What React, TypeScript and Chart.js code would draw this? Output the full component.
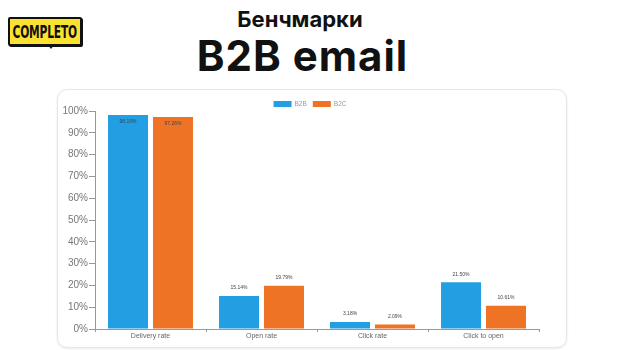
import React, { useEffect, useRef } from "react";
import { Chart, registerables } from "chart.js";

Chart.register(...registerables);

const categories = ["Delivery rate", "Open rate", "Click rate", "Click to open"];
const b2bValues = [98.19, 15.14, 3.18, 21.5];
const b2cValues = [97.26, 19.79, 2.09, 10.61];
const yTickLabels = ["0%", "10%", "20%", "30%", "40%", "50%", "60%", "70%", "80%", "90%", "100%"];
const seriesNames = ["B2B", "B2C"];

const BLUE = "#229fe3";
const ORANGE = "#ee7324";
const FONT = "'Liberation Sans', Arial, sans-serif";

const labelPlugin = {
  id: "barLabels",
  afterDatasetsDraw(chart: any) {
    const ctx = chart.ctx;
    ctx.save();
    ctx.font = "5px " + FONT;
    ctx.fillStyle = "#444";
    ctx.textAlign = "center";
    ctx.textBaseline = "middle";
    chart.data.datasets.forEach((ds: any, i: number) => {
      const meta = chart.getDatasetMeta(i);
      meta.data.forEach((el: any, j: number) => {
        const v = ds.data[j];
        const txt = v.toFixed(2) + "%";
        let y = el.y - 8;
        if (y < chart.chartArea.top + 5) y = el.y + 7;
        ctx.fillText(txt, el.x, y);
      });
    });
    ctx.restore();
  },
};

const legendPlugin = {
  id: "topLegend",
  afterDraw(chart: any) {
    const ctx = chart.ctx;
    ctx.save();
    ctx.font = "6.5px " + FONT;
    const boxW = 18, boxH = 6, gap = 3, itemGap = 6;
    const items = chart.data.datasets.map((ds: any) => ({
      label: ds.label,
      color: ds.backgroundColor,
      w: boxW + gap + ctx.measureText(ds.label).width,
    }));
    const total = items.reduce((s: number, it: any) => s + it.w, 0) + itemGap * (items.length - 1);
    let x = (chart.chartArea.left + chart.chartArea.right) / 2 - 7 - total / 2;
    const y = 11;
    ctx.textBaseline = "middle";
    ctx.textAlign = "left";
    items.forEach((it: any) => {
      ctx.fillStyle = it.color;
      ctx.fillRect(x, y, boxW, boxH);
      ctx.fillStyle = "#999";
      ctx.fillText(it.label, x + boxW + gap, y + boxH / 2);
      x += it.w + itemGap;
    });
    ctx.restore();
  },
};

export default function App() {
  const ref = useRef<HTMLCanvasElement | null>(null);
  useEffect(() => {
    if (!ref.current) return;
    const chart = new Chart(ref.current, {
      type: "bar",
      data: {
        labels: categories,
        datasets: [
          { label: seriesNames[0], data: b2bValues, backgroundColor: BLUE, borderWidth: 0 },
          { label: seriesNames[1], data: b2cValues, backgroundColor: ORANGE, borderWidth: 0 },
        ],
      },
      options: {
        animation: false,
        responsive: false,
        maintainAspectRatio: false,
        layout: { padding: { top: 21, right: 27, left: 0, bottom: 0 } },
        plugins: {
          legend: { display: false },
          tooltip: { enabled: false },
        },
        datasets: { bar: { categoryPercentage: 0.81, barPercentage: 0.89 } },
        scales: {
          x: {
            grid: { display: true, drawOnChartArea: false, tickLength: 3, color: "#999", offset: true },
            border: { color: "#999", width: 1 },
            ticks: { color: "#666", font: { size: 7, family: FONT }, padding: 0 },
            afterFit(scale: any) { scale.height = 18; },
          },
          y: {
            min: 0,
            max: 100,
            grid: { display: true, drawOnChartArea: false, tickLength: 6, color: "#999" },
            border: { color: "#999", width: 1 },
            ticks: {
              stepSize: 10,
              padding: 1,
              color: "#777",
              font: { size: 10, family: FONT },
              callback: (_v: any, i: number) => yTickLabels[i],
            },
            afterFit(scale: any) { scale.width = 37; },
          },
        },
      },
      plugins: [labelPlugin, legendPlugin],
    } as any);
    return () => chart.destroy();
  }, []);

  return (
    <div style={{ position: "absolute", left: 0, top: 0, width: 622, height: 350, background: "#fff", overflow: "hidden", fontFamily: "Inter, 'Noto Sans', sans-serif" }}>
      {/* logo */}
      <div style={{ position: "absolute", left: 8, top: 17, width: 70, height: 25, background: "#fbe232", border: "2px solid #111", borderRadius: 2, boxShadow: "1px 1px 0 #111", display: "flex", alignItems: "center", justifyContent: "center", overflow: "hidden" }}>
        <span style={{ fontFamily: "'DejaVu Sans Condensed', 'DejaVu Sans', sans-serif", fontWeight: 700, fontSize: 18, color: "#111", letterSpacing: -0.3, transform: "scaleX(0.66)", display: "inline-block", whiteSpace: "nowrap" }}>COMPLETO</span>
      </div>
      <div style={{ position: "absolute", left: 48, top: 45, width: 0, height: 0, borderLeft: "3px solid transparent", borderRight: "3px solid transparent", borderTop: "4px solid #111" }} />
      {/* titles */}
      <div style={{ position: "absolute", left: 0, width: 600, top: 6, textAlign: "center", fontWeight: 700, fontSize: 22, color: "#111" }}>Бенчмарки</div>
      <div style={{ position: "absolute", left: 0, width: 605, top: 30, textAlign: "center", fontWeight: 700, fontSize: 42, color: "#111", letterSpacing: 1 }}>B2B email</div>
      {/* card */}
      <div style={{ position: "absolute", left: 57, top: 89, width: 508, height: 257, border: "1px solid #e6e6e6", borderRadius: 10, boxShadow: "0 1px 3px rgba(0,0,0,0.08)", background: "#fff" }}>
        <canvas ref={ref} width={508} height={257} style={{ position: "absolute", left: 0, top: 0, width: 508, height: 257 }} />
      </div>
    </div>
  );
}
